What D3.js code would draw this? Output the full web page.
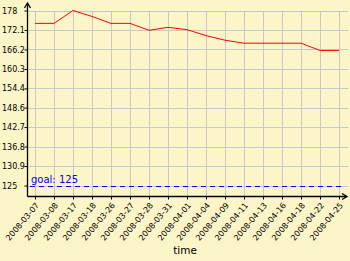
<!DOCTYPE html>
<html>
<head>
<meta charset="utf-8">
<script src="https://cdn.jsdelivr.net/npm/d3@7"></script>
<style>
  html, body { margin: 0; padding: 0; background: #fcf5c7; }
  svg { display: block; }
  text { font-family: "DejaVu Sans", sans-serif; }
</style>
</head>
<body>
<div id="chart"></div>
<script>
// categories along the time axis
const dates = [
  "2008-03-07", "2008-03-08", "2008-03-17", "2008-03-18", "2008-03-26",
  "2008-03-27", "2008-03-28", "2008-03-31", "2008-04-01", "2008-04-04",
  "2008-04-09", "2008-04-11", "2008-04-13", "2008-04-16", "2008-04-18",
  "2008-04-22", "2008-04-25",
];
// weight values
const weights = [
  174.1, 174.1, 178.0, 176.2, 174.1,
  174.1, 172.0, 172.9, 172.2, 170.4,
  169.0, 168.1, 168.1, 168.1, 168.1,
  165.9, 165.9,
];
const yTickValues = [125, 130.9, 136.8, 142.7, 148.6, 154.4, 160.3, 166.2, 172.1, 178];
const yTickLabels = ["125", "130.9", "136.8", "142.7", "148.6", "154.4", "160.3", "166.2", "172.1", "178"];
const goal = 125;
const goalLabel = "goal: 125";
const xTitle = "time";

const width = 350, height = 261;
const axisX = 27, axisY = 196;

const svg = d3.select("#chart").append("svg")
  .attr("width", width)
  .attr("height", height);

svg.append("rect").attr("width", width).attr("height", height).attr("fill", "#fcf5c7");

const x = d3.scalePoint().domain(dates).range([35, 339]);
const y = d3.scaleLinear().domain([125, 178]).range([185.5, 10.5]);

// grid
const grid = svg.append("g").attr("stroke", "#c8c8c8").attr("stroke-width", 1);
grid.selectAll("line.h")
  .data(yTickValues)
  .enter().append("line")
  .attr("class", "h")
  .attr("x1", axisX).attr("x2", 348)
  .attr("y1", (d) => Math.round(y(d)) + 0.5)
  .attr("y2", (d) => Math.round(y(d)) + 0.5);
grid.selectAll("line.v")
  .data(dates)
  .enter().append("line")
  .attr("class", "v")
  .attr("x1", (d) => Math.round(x(d)) + 0.5)
  .attr("x2", (d) => Math.round(x(d)) + 0.5)
  .attr("y1", axisY).attr("y2", Math.round(y(178)) + 0.5);

// goal line
svg.append("line")
  .attr("x1", 30).attr("x2", 341)
  .attr("y1", Math.round(y(goal)) + 0.5).attr("y2", Math.round(y(goal)) + 0.5)
  .attr("stroke", "#0000ff")
  .attr("stroke-dasharray", "5,4");
svg.append("text")
  .attr("x", 31).attr("y", y(goal) - 3)
  .attr("fill", "#0000ff")
  .attr("font-size", 10)
  .text(goalLabel);

// data line
const line = d3.line()
  .x((d, i) => x(dates[i]))
  .y((d) => y(d));
svg.append("path")
  .datum(weights)
  .attr("fill", "none")
  .attr("stroke", "#ff0000")
  .attr("stroke-width", 1)
  .attr("d", line);

// y axis, labels flush left
const yAxis = svg.append("g")
  .attr("transform", `translate(${axisX + 0.5},0)`)
  .call(d3.axisLeft(y).tickValues(yTickValues).tickSize(3).tickPadding(2)
    .tickFormat((d, i) => yTickLabels[i]));
yAxis.select(".domain").remove();
yAxis.selectAll("text")
  .attr("font-size", 8)
  .attr("font-family", "DejaVu Sans, sans-serif")
  .attr("fill", "#000")
  .attr("text-anchor", "start")
  .attr("x", -(axisX + 0.5) + 2);

// x axis
const xAxis = svg.append("g")
  .attr("transform", `translate(0,${axisY + 0.5})`)
  .call(d3.axisBottom(x).tickSize(3).tickPadding(2));
xAxis.select(".domain").remove();
xAxis.selectAll("text")
  .attr("font-size", 8)
  .attr("font-family", "DejaVu Sans, sans-serif")
  .attr("fill", "#000")
  .attr("text-anchor", "end")
  .attr("dy", "0.35em")
  .attr("transform", "translate(-2,4) rotate(-50)");

// axis lines with arrows
const axes = svg.append("g").attr("stroke", "#000").attr("stroke-width", 1.3).attr("fill", "none");
axes.append("path").attr("d", `M${axisX + 0.5},${axisY + 0.5}V3`);
axes.append("path").attr("d", `M${axisX - 2.5},8L${axisX + 0.5},3L${axisX + 3.5},8`);
axes.append("path").attr("d", `M${axisX + 0.5},${axisY + 0.5}H347`);
axes.append("path").attr("d", `M342,${axisY - 2.5}L347,${axisY + 0.5}L342,${axisY + 3.5}`);

// axis title
svg.append("text")
  .attr("x", 185).attr("y", 254)
  .attr("text-anchor", "middle")
  .attr("font-size", 10.5)
  .attr("fill", "#000")
  .text(xTitle);
</script>
</body>
</html>
